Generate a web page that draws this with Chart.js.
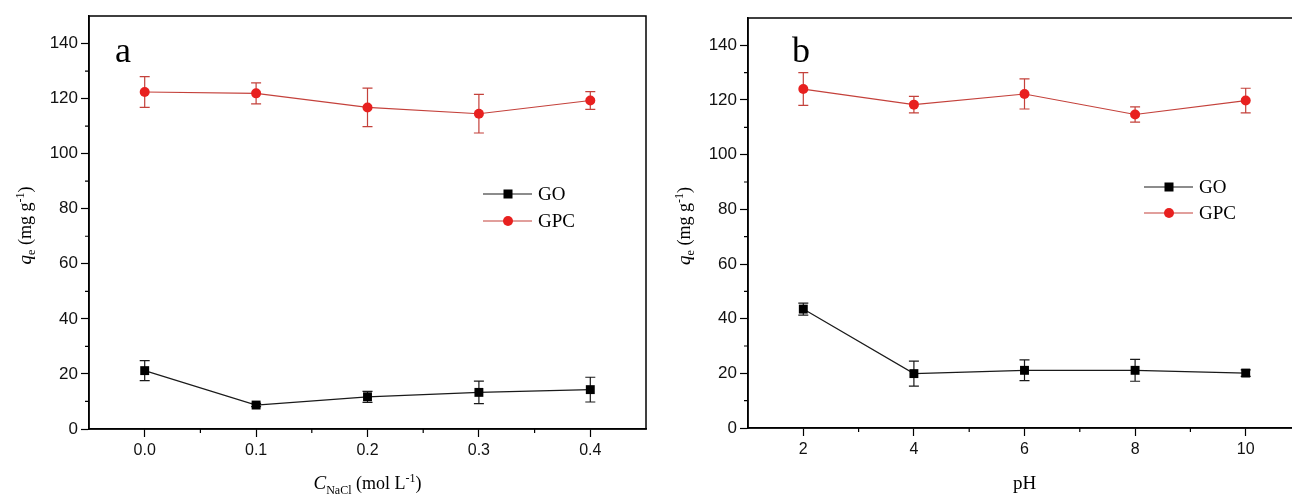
<!DOCTYPE html>
<html>
<head>
<meta charset="utf-8">
<script src="https://cdn.jsdelivr.net/npm/chart.js@4.4.1/dist/chart.umd.min.js"></script>
<style>
  html, body { margin: 0; padding: 0; background: #fff; overflow: hidden; width: 1292px; height: 497px; }
  canvas { position: absolute; top: 0; }
  #chartA { left: 0; }
  #chartB { left: 660px; }
</style>
</head>
<body>
<canvas id="chartA" width="660" height="497"></canvas>
<canvas id="chartB" width="660" height="497"></canvas>
<script>
// panel a: NaCl concentration
const naclConc = [0.0, 0.1, 0.2, 0.3, 0.4];
const goNacl = [21.2, 8.7, 11.7, 13.3, 14.3];
const goNaclErr = [3.6, 0.6, 2.0, 4.1, 4.5];
const gpcNacl = [122.4, 121.9, 116.8, 114.5, 119.3];
const gpcNaclErr = [5.6, 3.8, 7.0, 7.0, 3.2];

// panel b: pH
const phValues = [2, 4, 6, 8, 10];
const goPh = [43.5, 19.9, 21.1, 21.1, 20.1];
const goPhErr = [2.2, 4.6, 3.8, 4.0, 1.2];
const gpcPh = [124.0, 118.3, 122.2, 114.7, 119.8];
const gpcPhErr = [6.0, 3.0, 5.5, 2.8, 4.5];

// tick labels
const yTicks = [0, 20, 40, 60, 80, 100, 120, 140];
const yMinorTicks = [10, 30, 50, 70, 90, 110, 130];
const naclTicks = [0.0, 0.1, 0.2, 0.3, 0.4];
const naclMinorTicks = [0.05, 0.15, 0.25, 0.35];
const phTicks = [2, 4, 6, 8, 10];
const phMinorTicks = [3, 5, 7, 9];

const RED_MARK = '#e8201f';
const RED_LINE = '#c4413b';
const SANS = '"Liberation Sans", Arial, sans-serif';
const SERIF = '"Liberation Serif", "Times New Roman", serif';

// draws a run of text pieces with their own size / style / baseline shift
function drawRich(ctx, parts, x, y) {
  let total = 0;
  parts.forEach(p => {
    ctx.font = `${p.style || ''} ${p.size}px ${SERIF}`;
    p.w = ctx.measureText(p.t).width;
    total += p.w;
  });
  let cx = x - total / 2;
  parts.forEach(p => {
    ctx.font = `${p.style || ''} ${p.size}px ${SERIF}`;
    ctx.fillText(p.t, cx, y + (p.dy || 0));
    cx += p.w;
  });
}

const panelPlugin = {
  id: 'panel',
  beforeDatasetsDraw(chart, args, opts) {
    const ctx = chart.ctx;
    const xs = chart.scales.x, ys = chart.scales.y;
    ctx.save();
    chart.data.datasets.forEach((ds, i) => {
      const errs = opts.errors[i];
      ctx.strokeStyle = ds.borderColor;
      ctx.lineWidth = 1.2;
      ds.data.forEach((pt, j) => {
        const x = xs.getPixelForValue(pt.x);
        const yt = ys.getPixelForValue(pt.y + errs[j]);
        const yb = ys.getPixelForValue(pt.y - errs[j]);
        ctx.beginPath();
        ctx.moveTo(x, yt); ctx.lineTo(x, yb);
        ctx.moveTo(x - 5, yt); ctx.lineTo(x + 5, yt);
        ctx.moveTo(x - 5, yb); ctx.lineTo(x + 5, yb);
        ctx.stroke();
      });
    });
    ctx.restore();
  },
  afterDraw(chart, args, opts) {
    const ctx = chart.ctx;
    const a = chart.chartArea;
    const xs = chart.scales.x, ys = chart.scales.y;
    ctx.save();

    // frame
    ctx.strokeStyle = '#000';
    ctx.lineWidth = 1.5;
    ctx.strokeRect(a.left, a.top, a.right - a.left, a.bottom - a.top);

    // minor ticks
    ctx.lineWidth = 1.2;
    ctx.beginPath();
    yMinorTicks.forEach(v => {
      const y = ys.getPixelForValue(v);
      ctx.moveTo(a.left, y); ctx.lineTo(a.left - 4, y);
    });
    opts.xMinor.forEach(v => {
      const x = xs.getPixelForValue(v);
      ctx.moveTo(x, a.bottom); ctx.lineTo(x, a.bottom + 4);
    });
    ctx.stroke();

    // legend
    const lx = a.left + opts.legendX, ly = a.top + opts.legendY;
    chart.data.datasets.forEach((ds, i) => {
      const y = ly + i * opts.legendGap;
      ctx.strokeStyle = ds.borderColor;
      ctx.lineWidth = 1.2;
      ctx.beginPath();
      ctx.moveTo(lx, y); ctx.lineTo(lx + 49, y);
      ctx.stroke();
      ctx.fillStyle = ds.pointBackgroundColor;
      if (ds.pointStyle === 'rect') {
        ctx.fillRect(lx + 25 - 4.5, y - 4.5, 9, 9);
      } else {
        ctx.beginPath();
        ctx.arc(lx + 25, y, 5, 0, Math.PI * 2);
        ctx.fill();
      }
      ctx.fillStyle = '#000';
      ctx.font = `19px ${SERIF}`;
      ctx.textBaseline = 'middle';
      ctx.textAlign = 'left';
      ctx.fillText(ds.label, lx + 55, y + 1);
    });

    // panel letter
    ctx.fillStyle = '#000';
    ctx.textBaseline = 'alphabetic';
    ctx.font = `36px ${SERIF}`;
    ctx.fillText(opts.letter, a.left + opts.letterX, 62);

    // x axis title
    drawRich(ctx, opts.xTitle, (a.left + a.right) / 2, 489);

    // y axis title, rotated
    ctx.translate(a.left - 64, (a.top + a.bottom) / 2 + 3);
    ctx.rotate(-Math.PI / 2);
    drawRich(ctx, [
      { t: 'q', size: 19, style: 'italic' },
      { t: 'e', size: 12, dy: 4 },
      { t: ' (mg g', size: 18 },
      { t: '-1', size: 12, dy: -7 },
      { t: ')', size: 18 }
    ], 0, 6);
    ctx.restore();
  }
};

function makePanel(id, cfg) {
  return new Chart(document.getElementById(id), {
    type: 'line',
    data: {
      datasets: [
        {
          label: 'GO',
          data: cfg.xs.map((x, i) => ({ x, y: cfg.go[i] })),
          borderColor: '#1a1a1a',
          borderWidth: 1.2,
          pointStyle: 'rect',
          pointRadius: 6.3,
          pointBackgroundColor: '#000',
          pointBorderColor: '#000',
          pointBorderWidth: 0
        },
        {
          label: 'GPC',
          data: cfg.xs.map((x, i) => ({ x, y: cfg.gpc[i] })),
          borderColor: RED_LINE,
          borderWidth: 1.2,
          pointStyle: 'circle',
          pointRadius: 5,
          pointBackgroundColor: RED_MARK,
          pointBorderColor: RED_MARK,
          pointBorderWidth: 0
        }
      ]
    },
    options: {
      responsive: false,
      animation: false,
      layout: { padding: { left: 0, top: cfg.top, right: cfg.right, bottom: 0 } },
      plugins: {
        legend: { display: false },
        tooltip: { enabled: false },
        panel: {
          errors: [cfg.goErr, cfg.gpcErr],
          xMinor: cfg.xMinor,
          legendX: cfg.legendX,
          legendY: cfg.legendY,
          legendGap: cfg.legendGap,
          letter: cfg.letter,
          letterX: cfg.letterX,
          xTitle: cfg.xTitle
        }
      },
      scales: {
        x: {
          type: 'linear',
          min: cfg.xMin,
          max: cfg.xMax,
          afterBuildTicks: s => { s.ticks = cfg.xTicks.map(v => ({ value: v })); },
          afterFit: s => { s.height = cfg.bottomSpace; },
          border: { display: true, color: '#000', width: 1.5 },
          grid: { drawOnChartArea: false, drawTicks: true, tickLength: 8, tickColor: '#000', tickWidth: 1.2 },
          ticks: {
            padding: 4,
            color: '#111',
            font: { family: SANS, size: 16 },
            callback: cfg.xFormat
          }
        },
        y: {
          min: 0,
          max: 150,
          afterBuildTicks: s => { s.ticks = yTicks.map(v => ({ value: v })); },
          afterFit: s => { s.width = cfg.leftSpace; },
          border: { display: true, color: '#000', width: 1.5 },
          grid: { drawOnChartArea: false, drawTicks: true, tickLength: 8, tickColor: '#000', tickWidth: 1.2 },
          ticks: {
            padding: 3,
            color: '#111',
            font: { family: SANS, size: 17 }
          }
        }
      }
    },
    plugins: [panelPlugin]
  });
}

makePanel('chartA', {
  xs: naclConc, go: goNacl, goErr: goNaclErr, gpc: gpcNacl, gpcErr: gpcNaclErr,
  xMin: -0.05, xMax: 0.45, xTicks: naclTicks, xMinor: naclMinorTicks,
  xFormat: v => v.toFixed(1),
  top: 16, right: 14, leftSpace: 89, bottomSpace: 68,
  legendX: 394, legendY: 178, legendGap: 27,
  letter: 'a', letterX: 26,
  xTitle: [
    { t: 'C', size: 19, style: 'italic' },
    { t: 'NaCl', size: 12, dy: 5 },
    { t: ' (mol L', size: 18 },
    { t: '-1', size: 12, dy: -7 },
    { t: ')', size: 18 }
  ]
});

makePanel('chartB', {
  xs: phValues, go: goPh, goErr: goPhErr, gpc: gpcPh, gpcErr: gpcPhErr,
  xMin: 1, xMax: 11, xTicks: phTicks, xMinor: phMinorTicks,
  xFormat: v => String(v),
  top: 18, right: 19, leftSpace: 88, bottomSpace: 69,
  legendX: 396, legendY: 169, legendGap: 26,
  letter: 'b', letterX: 44,
  xTitle: [{ t: 'pH', size: 19 }]
});
</script>
</body>
</html>
